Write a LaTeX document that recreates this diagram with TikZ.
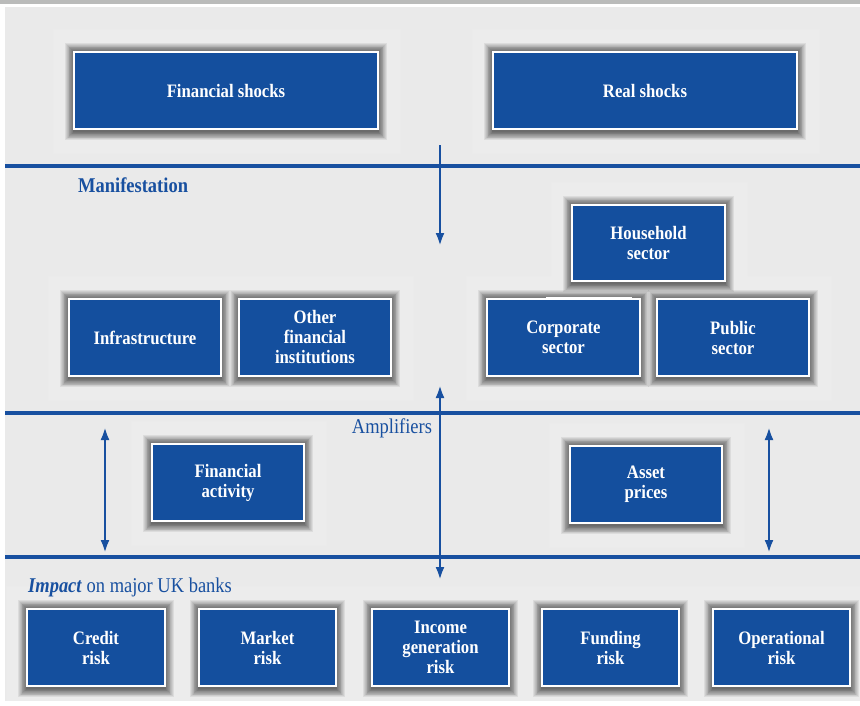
\documentclass[tikz,border=0pt]{standalone}
\usepackage{fontspec}
\setmainfont{Liberation Serif}[FakeStretch=0.88]
\usetikzlibrary{arrows.meta}
\definecolor{boxblue}{RGB}{20,79,158}
\definecolor{lineblue}{RGB}{24,80,160}
\definecolor{panel}{RGB}{234,234,234}
\definecolor{topbar}{RGB}{186,187,186}
\pgfdeclarelayer{background}
\pgfsetlayers{background,main}
\begin{document}
\begin{tikzpicture}[x=1pt,y=-1pt,
  bluebox/.style={draw=white, line width=1.2pt, fill=boxblue, text=white,
    font=\bfseries\fontsize{19}{20}\selectfont, align=center, inner sep=0pt},
  wide/.style={minimum width=304pt, minimum height=77pt},
  mid/.style={minimum width=152pt, minimum height=77pt},
  small/.style={minimum width=137pt, minimum height=77pt},
  sepline/.style={draw=lineblue, line width=3.2pt},
  flow/.style={draw=lineblue, line width=2.8pt},
  tip/.style={-{Latex[length=13pt,width=9pt]}},
  twotip/.style={{Latex[length=13pt,width=9pt]}-{Latex[length=13pt,width=9pt]}},
  section/.style={text=lineblue, anchor=west, inner sep=0pt, font=\fontsize{21}{23}\selectfont}]

% page and panel
\useasboundingbox (0,0) rectangle (860,705);
\begin{pgfonlayer}{background}
\fill[white] (0,0) rectangle (860,705);
\fill[topbar] (0,0) rectangle (860,4);
\fill[panel] (5,7) rectangle (860,701);
\end{pgfonlayer}

% section dividers
\draw[sepline] (5,166) -- (860,166);
\draw[sepline] (5,413) -- (860,413);
\draw[sepline] (5,557) -- (860,557);

% shocks
\node[bluebox, wide] (fin) at (226,90.5) {Financial shocks};
\node[bluebox, wide] (real) at (645,90.5) {Real shocks};

% manifestation
\node[section, font=\bfseries\fontsize{21}{23}\selectfont] (manif) at (78,185) {Manifestation};
\node[bluebox, mid, minimum width=153pt, minimum height=76pt] (house) at (648.5,243) {Household\\sector};
\node[bluebox, mid] (infra) at (145,337.5) {Infrastructure};
\node[bluebox, mid] (ofi) at (315,337.5) {Other\\financial\\institutions};
\node[bluebox, mid, minimum width=153pt] (corp) at (563.5,337.5) {Corporate\\sector};
\node[bluebox, mid] (pub) at (733,337.5) {Public\\sector};
\draw[white, line width=2pt] (546,298) -- (632,298);

% amplifiers
\node[section, anchor=center] (ampl) at (392,428) {Amplifiers};
\node[bluebox, mid] (finact) at (228,482.5) {Financial\\activity};
\node[bluebox, mid] (asset) at (646,484.5) {Asset\\prices};

% impact
\node[section] (impact) at (28,587) {\textbf{\textit{Impact}} on major UK banks};
\node[bluebox, small, minimum width=138pt] (credit) at (96,647.5) {Credit\\risk};
\node[bluebox, small] (market) at (267.5,647.5) {Market\\risk};
\node[bluebox, small] (income) at (440.5,647.5) {Income\\generation\\risk};
\node[bluebox, small] (funding) at (610.5,647.5) {Funding\\risk};
\node[bluebox, small] (oper) at (781.5,647.5) {Operational\\risk};

% pale halo and soft drop shadows behind the boxes
\begin{pgfonlayer}{background}
\fill[white, opacity=0.14]
  \foreach \n in {fin,real,house,infra,ofi,corp,pub,finact,asset,credit,market,income,funding,oper}{
    ([shift={(-20,-22)}]\n.north west) rectangle ([shift={(22,24)}]\n.south east)
  };
\foreach \n in {fin,real,house,infra,ofi,corp,pub,finact,asset,credit,market,income,funding,oper}{
  \foreach \r in {1,...,11}{
    \fill[black, opacity=0.065]
      ([shift={(-0.8*\r+0.8,-0.8*\r+0.8)}]\n.north west) rectangle ([shift={(0.8*\r-0.8,0.8*\r+1.5)}]\n.south east);
  }
}
\end{pgfonlayer}

% arrows
\coordinate (downA) at (440,145);
\coordinate (downB) at (440,246);
\coordinate (midA) at (440,385);
\coordinate (midB) at (440,580);
\coordinate (leftA) at (105,427);
\coordinate (leftB) at (105,553);
\coordinate (rightA) at (769,427);
\coordinate (rightB) at (769,553);
\draw[flow, tip] (downA) -- (downB);
\draw[flow, twotip] (midA) -- (midB);
\draw[flow, twotip] (leftA) -- (leftB);
\draw[flow, twotip] (rightA) -- (rightB);
\end{tikzpicture}
\end{document}
